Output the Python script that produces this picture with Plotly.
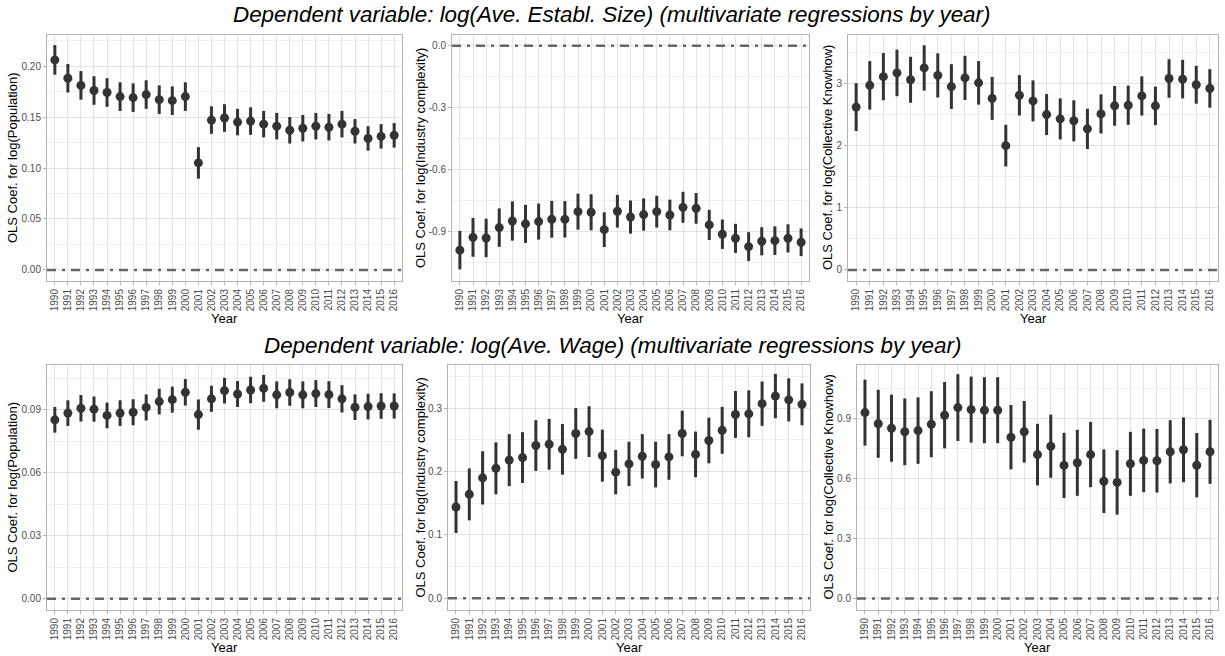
import plotly.graph_objects as go
from plotly.subplots import make_subplots

years = ["1990", "1991", "1992", "1993", "1994", "1995", "1996", "1997", "1998",
         "1999", "2000", "2001", "2002", "2003", "2004", "2005", "2006", "2007",
         "2008", "2009", "2010", "2011", "2012", "2013", "2014", "2015", "2016"]

# top row: dependent variable log(Ave. Establ. Size)
size_pop = [0.206, 0.188, 0.181, 0.176, 0.174, 0.170, 0.169, 0.172, 0.167, 0.166, 0.170, 0.105, 0.147, 0.149,
            0.145, 0.146, 0.143, 0.141, 0.137, 0.139, 0.141, 0.140, 0.143, 0.136, 0.129, 0.131, 0.132]
size_pop_err = [0.0145, 0.014, 0.014, 0.014, 0.014, 0.014, 0.014, 0.014, 0.014, 0.014, 0.014, 0.0155, 0.0135, 0.0135,
                0.013, 0.0135, 0.013, 0.013, 0.013, 0.013, 0.013, 0.013, 0.013, 0.012, 0.012, 0.012, 0.012]

size_ind = [-0.988, -0.926, -0.929, -0.879, -0.847, -0.861, -0.850, -0.839, -0.839, -0.802, -0.805, -0.889, -0.800,
            -0.828, -0.816, -0.802, -0.818, -0.781, -0.786, -0.866, -0.911, -0.931, -0.971, -0.945, -0.942, -0.931, -0.950]
size_ind_err = [0.093, 0.094, 0.093, 0.093, 0.095, 0.092, 0.087, 0.089, 0.088, 0.087, 0.087, 0.084, 0.079, 0.080,
                0.078, 0.077, 0.074, 0.075, 0.074, 0.073, 0.071, 0.070, 0.070, 0.068, 0.069, 0.068, 0.067]

size_know = [2.62, 2.97, 3.11, 3.17, 3.06, 3.25, 3.13, 2.95, 3.09, 3.01, 2.76, 2.00, 2.81, 2.72,
             2.50, 2.43, 2.40, 2.27, 2.51, 2.64, 2.65, 2.80, 2.64, 3.08, 3.07, 2.98, 2.92]
size_know_err = [0.385, 0.39, 0.38, 0.375, 0.37, 0.365, 0.355, 0.36, 0.355, 0.35, 0.345, 0.335, 0.325, 0.33,
                 0.33, 0.33, 0.33, 0.325, 0.315, 0.32, 0.315, 0.315, 0.31, 0.31, 0.31, 0.305, 0.31]

# bottom row: dependent variable log(Ave. Wage)
wage_pop = [0.0851, 0.0883, 0.0906, 0.0902, 0.0872, 0.0883, 0.0887, 0.0910, 0.0938, 0.0947, 0.0982, 0.0876, 0.0951,
            0.0990, 0.0974, 0.0993, 0.1001, 0.0970, 0.0981, 0.0970, 0.0976, 0.0971, 0.0951, 0.0911, 0.0914, 0.0917, 0.0917]
wage_pop_err = [0.0061, 0.0061, 0.0063, 0.0060, 0.0061, 0.0061, 0.0062, 0.0062, 0.0061, 0.0062, 0.0063, 0.0072, 0.0062,
                0.0061, 0.0062, 0.0063, 0.0064, 0.0064, 0.0063, 0.0064, 0.0064, 0.0064, 0.0065, 0.0061, 0.0061, 0.0061, 0.0060]

wage_ind = [0.144, 0.164, 0.190, 0.205, 0.218, 0.222, 0.241, 0.243, 0.235, 0.260, 0.263, 0.225, 0.199, 0.212,
            0.224, 0.211, 0.223, 0.260, 0.227, 0.249, 0.265, 0.290, 0.291, 0.307, 0.319, 0.313, 0.306]
wage_ind_err = [0.041, 0.041, 0.042, 0.041, 0.041, 0.040, 0.040, 0.040, 0.040, 0.040, 0.040, 0.041, 0.035, 0.035,
                0.035, 0.036, 0.036, 0.036, 0.036, 0.036, 0.037, 0.037, 0.037, 0.035, 0.035, 0.034, 0.033]

wage_know = [0.930, 0.874, 0.852, 0.834, 0.840, 0.872, 0.917, 0.955, 0.945, 0.942, 0.942, 0.807, 0.834, 0.720,
             0.762, 0.666, 0.679, 0.720, 0.587, 0.581, 0.674, 0.691, 0.689, 0.734, 0.744, 0.667, 0.734]
wage_know_err = [0.165, 0.17, 0.168, 0.167, 0.166, 0.165, 0.166, 0.167, 0.165, 0.165, 0.165, 0.161, 0.154, 0.154,
                 0.158, 0.163, 0.165, 0.163, 0.159, 0.161, 0.160, 0.159, 0.159, 0.158, 0.162, 0.161, 0.160]

titles = ["Dependent variable: log(Ave. Establ. Size) (multivariate regressions by year)",
          "Dependent variable: log(Ave. Wage) (multivariate regressions by year)"]
ytitles = ["OLS Coef. for log(Population)", "OLS Coef. for log(Industry complexity)",
           "OLS Coef. for log(Collective Knowhow)"]

# tick labels per panel
ticks = [
    ([0.0, 0.05, 0.10, 0.15, 0.20], ["0.00", "0.05", "0.10", "0.15", "0.20"]),
    ([-0.9, -0.6, -0.3, 0.0], ["-0.9", "-0.6", "-0.3", "0.0"]),
    ([0, 1, 2, 3], ["0", "1", "2", "3"]),
    ([0.0, 0.03, 0.06, 0.09], ["0.00", "0.03", "0.06", "0.09"]),
    ([0.0, 0.1, 0.2, 0.3], ["0.0", "0.1", "0.2", "0.3"]),
    ([0.0, 0.3, 0.6, 0.9], ["0.0", "0.3", "0.6", "0.9"]),
]

panels = [(size_pop, size_pop_err), (size_ind, size_ind_err), (size_know, size_know_err),
          (wage_pop, wage_pop_err), (wage_ind, wage_ind_err), (wage_know, wage_know_err)]

W, H = 1225, 656
FONT = "Liberation Sans, Arial, sans-serif"
DARK = "#333333"


def px_x(v):
    return v / W


def px_y(v):
    return 1 - v / H


# panel boxes in pixels: (left, right, top, bottom)
boxes = [(47, 402, 35, 281), (452, 809, 35, 281), (848, 1218, 35, 281),
         (47, 402, 365, 610), (448, 810, 365, 610), (857, 1218, 365, 610)]
yranges = [(-0.0108, 0.2304), (-1.137, 0.0515), (-0.178, 3.78),
           (-0.0054, 0.1112), (-0.0184, 0.368), (-0.057, 1.168)]
minors = [0.025, 0.15, 0.5, 0.015, 0.05, 0.15]
ytitle_x = [12, 420, 827, 12, 420, 828]

fig = make_subplots(rows=2, cols=3)

for i, (vals, err) in enumerate(panels):
    r, c = i // 3 + 1, i % 3 + 1
    fig.add_trace(go.Scatter(
        x=years, y=vals, mode="markers",
        marker=dict(color=DARK, size=9),
        error_y=dict(type="data", array=err, color=DARK, thickness=3, width=0),
        showlegend=False), row=r, col=c)

for i in range(6):
    l, rgt, t, b = boxes[i]
    n = "" if i == 0 else str(i + 1)
    tv, tt = ticks[i]
    fig.layout["xaxis" + n].update(
        domain=[px_x(l), px_x(rgt)], type="category", range=[-0.6, 26.6],
        tickangle=-90, tickfont=dict(size=10, color="#4d4d4d", family=FONT),
        showgrid=True, gridcolor="#e3e3e3", gridwidth=1,
        showline=True, mirror=True, linecolor="#b3b3b3", linewidth=1,
        ticks="outside", ticklen=3, tickcolor="#b3b3b3", zeroline=False)
    fig.layout["yaxis" + n].update(
        domain=[px_y(b), px_y(t)], range=list(yranges[i]),
        tickmode="array", tickvals=tv, ticktext=tt,
        tickfont=dict(size=10, color="#4d4d4d", family=FONT),
        showgrid=True, gridcolor="#e3e3e3", gridwidth=1,
        minor=dict(dtick=minors[i], tick0=0, showgrid=True, gridcolor="#f0f0f0", gridwidth=0.6, ticks=""),
        showline=True, mirror=True, linecolor="#b3b3b3", linewidth=1,
        ticks="outside", ticklen=3, tickcolor="#b3b3b3", zeroline=False)

    # zero reference line
    fig.add_shape(type="line", xref=("x" + n) + " domain", yref="y" + n,
                  x0=0, x1=1, y0=0, y1=0, layer="above",
                  line=dict(color="#666666", width=2.5, dash="9px,6px,3px,6px"))

    fig.add_annotation(text=ytitles[i % 3], xref="paper", yref="paper",
                       x=px_x(ytitle_x[i]), y=px_y((t + b) / 2), textangle=-90, showarrow=False,
                       xanchor="center", yanchor="middle",
                       font=dict(size=13, color="black", family=FONT))
    yr_title = 318 if i < 3 else 647
    fig.add_annotation(text="Year", xref="paper", yref="paper",
                       x=px_x((l + rgt) / 2), y=px_y(yr_title), showarrow=False,
                       xanchor="center", yanchor="middle",
                       font=dict(size=13, color="black", family=FONT))

for k, ty in enumerate([15, 345]):
    fig.add_annotation(text="<i>" + titles[k] + "</i>", xref="paper", yref="paper",
                       x=px_x(612), y=px_y(ty), showarrow=False,
                       xanchor="center", yanchor="middle",
                       font=dict(size=22.4, color="black", family=FONT))

fig.update_layout(
    width=W, height=H, margin=dict(l=0, r=0, t=0, b=0),
    paper_bgcolor="white", plot_bgcolor="white",
    font=dict(family=FONT, color="black"),
)

# drop the default body margin so the figure sits at the window's corner
fig.write_html("out.html", config={"displayModeBar": False},
               post_script="document.body.style.margin = '0';")
